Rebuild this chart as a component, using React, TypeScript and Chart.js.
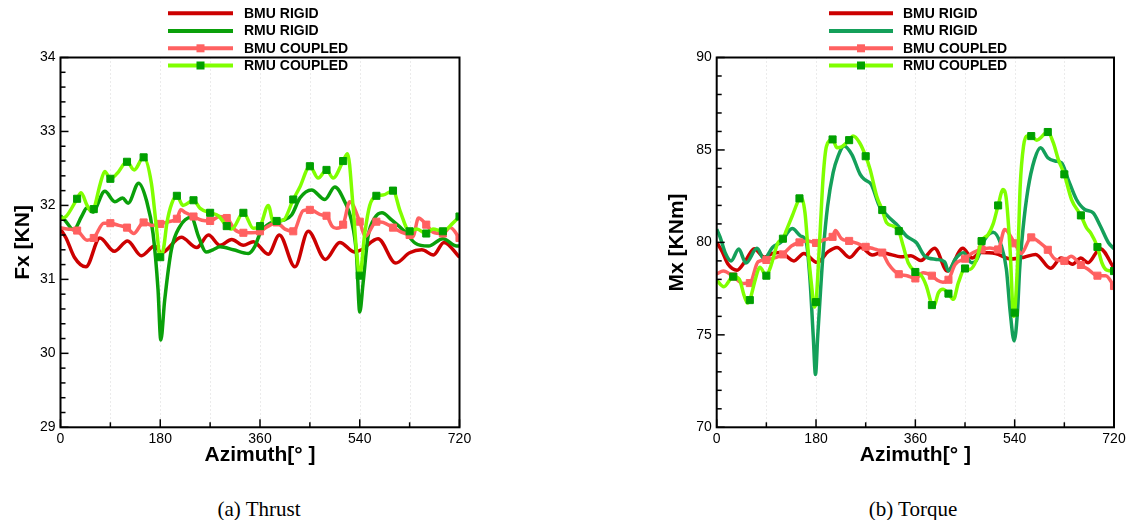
import React, { useEffect, useRef } from "react";
import { Chart, registerables } from "chart.js";

Chart.register(...registerables);

// ---------- data ----------
const seriesLabels = ["BMU RIGID", "RMU RIGID", "BMU COUPLED", "RMU COUPLED"];
const azimuthTicks = [0, 180, 360, 540, 720];
const thrustTicks = [29, 30, 31, 32, 33, 34];
const torqueTicks = [70, 75, 80, 85, 90];

const thrustBmuRigid: [number, number][] = [
  [0, 31.68], [10, 31.56], [25, 31.3], [46, 31.17], [71, 31.56], [97, 31.38], [121, 31.52],
  [146, 31.32], [170, 31.45], [182, 31.36], [218, 31.57], [246, 31.43], [267, 31.6], [288, 31.46],
  [309, 31.54], [330, 31.46], [348, 31.51], [375, 31.34], [395, 31.6], [423, 31.17], [447, 31.65],
  [478, 31.27], [504, 31.5], [531, 31.37], [543, 31.4], [573, 31.55], [605, 31.22], [630, 31.36],
  [652, 31.4], [673, 31.33], [692, 31.5], [720, 31.3],
];
const thrustRmuRigid: [number, number][] = [
  [0, 31.86], [8, 31.8], [24, 31.67], [38, 31.85], [48, 31.97], [58, 31.91], [80, 32.19], [98, 32.05],
  [112, 32.1], [122, 32.03], [141, 32.3], [155, 32.07], [167, 31.62], [176, 30.86], [181, 30.18],
  [188, 30.72], [200, 31.4], [215, 31.71], [236, 31.84], [249, 31.58], [263, 31.37], [275, 31.4],
  [288, 31.44], [312, 31.4], [339, 31.35], [351, 31.45], [360, 31.62], [378, 31.76], [402, 31.8],
  [417, 31.87], [432, 32.1], [453, 32.21], [477, 32.08], [495, 32.25], [513, 32.05], [525, 31.8],
  [534, 31.35], [540, 30.56], [546, 30.95], [555, 31.58], [567, 31.83], [580, 31.9], [598, 31.8],
  [622, 31.64], [640, 31.49], [664, 31.45], [690, 31.55], [715, 31.45], [720, 31.45],
];
const thrustBmuCoupled: [number, number][] = [
  [0, 31.7], [12, 31.68], [30, 31.66], [48, 31.53], [60, 31.56], [78, 31.76], [90, 31.76], [105, 31.73],
  [120, 31.7], [132, 31.62], [150, 31.77], [165, 31.73], [180, 31.75], [195, 31.78], [210, 31.82],
  [217, 31.94], [226, 31.9], [240, 31.85], [255, 31.8], [270, 31.79], [287, 31.85], [300, 31.83],
  [315, 31.67], [330, 31.63], [345, 31.63], [360, 31.65], [375, 31.72], [390, 31.77], [405, 31.68],
  [420, 31.65], [438, 31.93], [450, 31.94], [472, 31.87], [480, 31.86], [490, 31.72], [498, 31.69],
  [510, 31.74], [522, 32.05], [540, 31.78], [550, 31.58], [570, 31.78], [582, 31.77], [600, 31.7],
  [615, 31.64], [630, 31.6], [636, 31.58], [646, 31.83], [660, 31.74], [672, 31.64], [690, 31.62],
  [703, 31.7], [720, 31.56],
];
const thrustRmuCoupled: [number, number][] = [
  [0, 31.82], [10, 31.85], [30, 32.09], [37, 32.17], [48, 32.0], [56, 31.92], [60, 31.95], [72, 32.3],
  [80, 32.46], [90, 32.36], [102, 32.43], [120, 32.59], [133, 32.48], [150, 32.65], [164, 32.3],
  [173, 31.71], [180, 31.3], [186, 31.42], [192, 31.76], [201, 32.03], [210, 32.13], [221, 32.0],
  [240, 32.07], [252, 31.96], [270, 31.9], [285, 31.86], [300, 31.72], [309, 31.68], [330, 31.9],
  [348, 31.69], [360, 31.72], [375, 32.0], [384, 31.78], [390, 31.79], [402, 31.8], [420, 32.08],
  [432, 32.25], [450, 32.53], [465, 32.37], [480, 32.48], [492, 32.37], [510, 32.6], [518, 32.7],
  [528, 31.98], [534, 31.4], [540, 31.05], [549, 31.62], [558, 32.0], [570, 32.13], [582, 32.14],
  [600, 32.2], [613, 31.92], [630, 31.65], [643, 31.68], [660, 31.62], [672, 31.68], [690, 31.65],
  [708, 31.76], [720, 31.85],
];

const torqueBmuRigid: [number, number][] = [
  [0, 80.0], [10, 79.5], [20, 78.85], [37, 78.5], [52, 79.0], [68, 79.66], [86, 79.2], [101, 79.4],
  [116, 79.45], [140, 79.0], [158, 79.4], [182, 78.92], [202, 79.5], [218, 79.73], [241, 79.18],
  [261, 79.72], [282, 79.32], [298, 79.45], [315, 79.35], [333, 79.22], [352, 79.28], [370, 79.02],
  [395, 79.68], [418, 78.45], [446, 79.68], [463, 79.15], [478, 79.45], [505, 79.4], [533, 79.1],
  [557, 79.2], [578, 79.35], [605, 78.6], [624, 79.15], [645, 78.82], [660, 79.15], [673, 78.9],
  [695, 79.66], [720, 78.6],
];
const torqueRmuRigid: [number, number][] = [
  [0, 80.72], [6, 80.3], [16, 79.4], [26, 79.0], [40, 79.64], [53, 78.88], [73, 79.68], [86, 79.1],
  [101, 79.73], [116, 80.0], [137, 80.75], [152, 80.35], [162, 80.05], [169, 78.0], [175, 74.9],
  [179, 72.86], [183, 74.9], [188, 77.3], [193, 79.5], [201, 81.96], [211, 83.77], [220, 84.67],
  [231, 85.22], [245, 84.75], [260, 83.68], [268, 83.4], [280, 83.14], [295, 81.96], [310, 81.42],
  [329, 80.88], [344, 80.34], [362, 79.98], [377, 79.26], [398, 79.08], [413, 78.95], [420, 78.45],
  [432, 79.08], [447, 79.44], [462, 78.9], [470, 79.0], [486, 80.16], [501, 80.55], [516, 79.8],
  [525, 78.54], [532, 76.2], [539, 74.67], [545, 76.2], [549, 78.54], [555, 80.7], [564, 82.86],
  [576, 84.49], [587, 85.12], [600, 84.58], [613, 84.4], [625, 84.3], [637, 83.4], [652, 82.32],
  [667, 81.78], [682, 81.6], [695, 80.9], [710, 79.98], [720, 79.66],
];
const torqueBmuCoupled: [number, number][] = [
  [0, 78.3], [12, 78.45], [30, 78.16], [48, 77.78], [60, 77.8], [75, 78.95], [90, 79.05], [103, 79.15],
  [120, 79.35], [135, 79.8], [150, 80.0], [165, 80.08], [180, 79.97], [195, 80.15], [210, 80.3],
  [215, 80.65], [226, 80.2], [240, 80.08], [255, 79.95], [270, 79.76], [285, 79.65], [300, 79.45],
  [312, 78.8], [330, 78.28], [345, 78.2], [360, 78.05], [374, 78.36], [390, 78.2], [400, 77.95],
  [410, 77.85], [420, 77.98], [432, 78.8], [450, 79.12], [465, 79.45], [480, 79.62], [495, 79.7],
  [510, 79.62], [522, 80.7], [540, 79.95], [552, 79.4], [570, 80.27], [585, 80.0], [600, 79.6],
  [613, 79.1], [630, 79.0], [642, 79.25], [660, 78.78], [673, 78.55], [690, 78.2], [705, 78.2],
  [720, 77.64],
];
const torqueRmuCoupled: [number, number][] = [
  [0, 77.95], [13, 77.6], [30, 78.15], [41, 78.0], [50, 77.1], [56, 76.72], [60, 76.88], [70, 78.0],
  [78, 78.65], [90, 78.2], [98, 78.72], [111, 79.98], [120, 80.2], [127, 80.7], [137, 81.44],
  [150, 82.38], [153, 82.45], [160, 81.6], [166, 79.45], [172, 77.66], [177, 76.5], [180, 76.77],
  [187, 80.34], [193, 83.58], [199, 85.2], [210, 85.57], [218, 85.12], [225, 85.15], [240, 85.53],
  [247, 85.75], [259, 85.39], [270, 84.66], [278, 83.95], [290, 82.5], [300, 81.75], [308, 81.06],
  [320, 80.88], [330, 80.61], [338, 79.8], [347, 78.9], [360, 78.4], [371, 78.2], [380, 77.64],
  [390, 76.61], [393, 76.5], [402, 77.28], [410, 77.46], [420, 77.23], [429, 76.92], [438, 77.82],
  [450, 78.59], [459, 78.54], [471, 79.08], [480, 80.07], [492, 80.43], [501, 81.0], [510, 82.0],
  [519, 82.86], [525, 82.3], [532, 79.45], [538, 76.0], [540, 76.2], [546, 79.44], [550, 83.04],
  [556, 85.2], [562, 85.75], [570, 85.75], [580, 85.53], [600, 85.97], [610, 85.39], [619, 84.49],
  [630, 83.68], [643, 82.32], [660, 81.46], [670, 80.8], [678, 80.5], [690, 79.75], [698, 78.9],
  [707, 78.5], [720, 78.45],
];

// ---------- styling ----------
const SANS = '"Liberation Sans", Arial, Helvetica, sans-serif';
const SERIF = '"Liberation Serif", "Times New Roman", serif';
const C_BMU_RIGID = "#cc0000";
const C_BMU_COUPLED = "#ff6161";
const C_RMU_COUPLED = "#80ff00";
const C_MARKER = "#00a000";

const markerRadius = (ctx: any) => {
  const r = ctx.raw;
  return r && r.x > 0 && r.x % 30 === 0 ? 5 : 0;
};

const framePlugin = {
  id: "frame",
  beforeDatasetsDraw(chart: any, _a: any, opts: any) {
    const { ctx, chartArea: a, scales } = chart;
    ctx.save();
    ctx.strokeStyle = "#d6d6d6";
    ctx.lineWidth = 1;
    ctx.setLineDash([1, 3]);
    for (let v = 90; v < 720; v += 90) {
      const px = Math.round(scales.x.getPixelForValue(v)) + 0.5;
      ctx.beginPath();
      ctx.moveTo(px, a.top);
      ctx.lineTo(px, a.bottom);
      ctx.stroke();
    }
    ctx.restore();
  },
  afterDatasetsDraw(chart: any, _a: any, opts: any) {
    const { ctx, chartArea: a, scales } = chart;
    const ys = scales.y;
    ctx.save();
    ctx.strokeStyle = "#000";
    ctx.lineWidth = 1.5;
    const minorY = opts.minorY;
    for (let v = ys.min; v <= ys.max + 1e-9; v += minorY) {
      const vv = Math.round(v * 1000) / 1000;
      const major = Math.abs(vv / opts.majorY - Math.round(vv / opts.majorY)) < 1e-6;
      const py = ys.getPixelForValue(vv);
      ctx.beginPath();
      ctx.moveTo(a.left, py);
      ctx.lineTo(a.left + (major ? 8 : 5), py);
      ctx.stroke();
    }
    for (let v = 0; v <= 720; v += 90) {
      const px = scales.x.getPixelForValue(v);
      const major = v % 180 === 0;
      ctx.beginPath();
      ctx.moveTo(px, a.bottom);
      ctx.lineTo(px, a.bottom - (major ? 8 : 5));
      ctx.stroke();
    }
    ctx.lineWidth = 2;
    ctx.strokeRect(a.left, a.top, a.right - a.left, a.bottom - a.top);
    ctx.restore();
  },
  afterDraw(chart: any, _a: any, opts: any) {
    const { ctx } = chart;
    const lg = opts.legend;
    ctx.save();
    chart.data.datasets.forEach((ds: any, i: number) => {
      const y = lg.rows[i];
      ctx.strokeStyle = ds.borderColor;
      ctx.lineWidth = 4;
      ctx.beginPath();
      ctx.moveTo(lg.x0, y);
      ctx.lineTo(lg.x1, y);
      ctx.stroke();
      if (ds.legendMarker) {
        ctx.fillStyle = ds.pointBackgroundColor;
        const s = 8;
        ctx.fillRect((lg.x0 + lg.x1) / 2 - s / 2, y - s / 2, s, s);
      }
      ctx.fillStyle = "#000";
      ctx.font = `bold 14px ${SANS}`;
      ctx.textBaseline = "middle";
      ctx.textAlign = "left";
      ctx.fillText(ds.label, lg.textX, y + 0.5);
    });
    ctx.restore();
  },
};

type Cfg = {
  series: [number, number][][];
  rmuRigidColor: string;
  yTicks: number[];
  minorY: number;
  yTitle: string;
  padLeft: number;
  padRight: number;
  yWidth: number;
  yTitlePad: number;
  legend: { x0: number; x1: number; textX: number; rows: number[] };
};

function makeConfig(c: Cfg): any {
  const pts = (s: [number, number][]) => s.map(([x, y]) => ({ x, y }));
  const colors = [C_BMU_RIGID, c.rmuRigidColor, C_BMU_COUPLED, C_RMU_COUPLED];
  const markerFill = [null, null, C_BMU_COUPLED, C_MARKER];
  const order = [3, 2, 1, 0];
  const datasets = c.series.map((s, i) => ({
    label: seriesLabels[i],
    data: pts(s),
    borderColor: colors[i],
    borderWidth: 3.5,
    cubicInterpolationMode: "monotone",
    pointStyle: "rect",
    pointRadius: markerFill[i] ? markerRadius : 0,
    pointHoverRadius: 0,
    pointBackgroundColor: markerFill[i] || colors[i],
    pointBorderColor: markerFill[i] || colors[i],
    pointBorderWidth: 1,
    legendMarker: !!markerFill[i],
    order: order[i],
    fill: false,
  }));
  const yMin = c.yTicks[0];
  const yMax = c.yTicks[c.yTicks.length - 1];
  return {
    type: "line",
    data: { datasets },
    plugins: [framePlugin],
    options: {
      responsive: false,
      animation: false,
      devicePixelRatio: 1,
      events: [],
      layout: { padding: { left: c.padLeft, right: c.padRight, top: 57.5, bottom: 0 } },
      plugins: {
        legend: { display: false },
        tooltip: { enabled: false },
        frame: { minorY: c.minorY, majorY: c.yTicks[1] - c.yTicks[0], legend: c.legend },
      },
      scales: {
        x: {
          type: "linear",
          min: 0,
          max: 720,
          afterBuildTicks: (s: any) => {
            s.ticks = azimuthTicks.map((v) => ({ value: v }));
          },
          afterFit: (s: any) => {
            s.height = 52.7;
          },
          grid: { display: false, drawTicks: false },
          border: { display: false },
          ticks: {
            padding: 3.5,
            color: "#000",
            maxRotation: 0,
            autoSkip: false,
            font: { family: SANS, size: 14 },
          },
          title: {
            display: true,
            text: "Azimuth[° ]",
            color: "#000",
            font: { family: SANS, size: 21, weight: "bold", lineHeight: 1.2 },
            padding: { top: 0, bottom: 12.4 },
          },
        },
        y: {
          type: "linear",
          min: yMin,
          max: yMax,
          afterBuildTicks: (s: any) => {
            s.ticks = c.yTicks.map((v) => ({ value: v }));
          },
          afterFit: (s: any) => {
            s.width = c.yWidth;
          },
          grid: { display: false, drawTicks: false },
          border: { display: false },
          ticks: {
            padding: 5,
            color: "#000",
            autoSkip: false,
            font: { family: SANS, size: 14 },
          },
          title: {
            display: true,
            text: c.yTitle,
            color: "#000",
            font: { family: SANS, size: 21, weight: "bold", lineHeight: 1.2 },
            padding: { top: c.yTitlePad, bottom: 0 },
          },
        },
      },
    },
  };
}

function Panel({ cfg, left }: { cfg: Cfg; left: number }) {
  const ref = useRef<HTMLCanvasElement | null>(null);
  useEffect(() => {
    if (!ref.current) return;
    const chart = new Chart(ref.current, makeConfig(cfg));
    return () => chart.destroy();
  }, []);
  return (
    <canvas
      ref={ref}
      width={565}
      height={480}
      style={{ position: "absolute", left, top: 0, width: 565, height: 480, display: "block" }}
    />
  );
}

const thrustCfg: Cfg = {
  series: [thrustBmuRigid, thrustRmuRigid, thrustBmuCoupled, thrustRmuCoupled],
  rmuRigidColor: "#0aa00a",
  yTicks: thrustTicks,
  minorY: 0.2,
  yTitle: "Fx [KN]",
  padLeft: 0,
  padRight: 105.5,
  yWidth: 60.5,
  yTitlePad: 10.7,
  legend: { x0: 168, x1: 233, textX: 244, rows: [13.3, 31, 48.3, 65.5] },
};

const torqueCfg: Cfg = {
  series: [torqueBmuRigid, torqueRmuRigid, torqueBmuCoupled, torqueRmuCoupled],
  rmuRigidColor: "#14a05a",
  yTicks: torqueTicks,
  minorY: 1,
  yTitle: "Mx [KNm]",
  padLeft: 90,
  padRight: 16,
  yWidth: 61.7,
  yTitlePad: 9.4,
  legend: { x0: 264, x1: 328, textX: 338, rows: [13.3, 31, 48.3, 65.5] },
};

export default function App() {
  const cap: React.CSSProperties = {
    position: "absolute",
    top: 497,
    width: 200,
    textAlign: "center",
    fontFamily: SERIF,
    fontSize: 21,
    lineHeight: "24px",
    color: "#000",
  };
  return (
    <div
      style={{
        position: "fixed",
        left: 0,
        top: 0,
        width: 1130,
        height: 520,
        background: "#fff",
        overflow: "hidden",
      }}
    >
      <Panel cfg={thrustCfg} left={0} />
      <Panel cfg={torqueCfg} left={565} />
      <div style={{ ...cap, left: 159 }}>(a) Thrust</div>
      <div style={{ ...cap, left: 813 }}>(b) Torque</div>
    </div>
  );
}
